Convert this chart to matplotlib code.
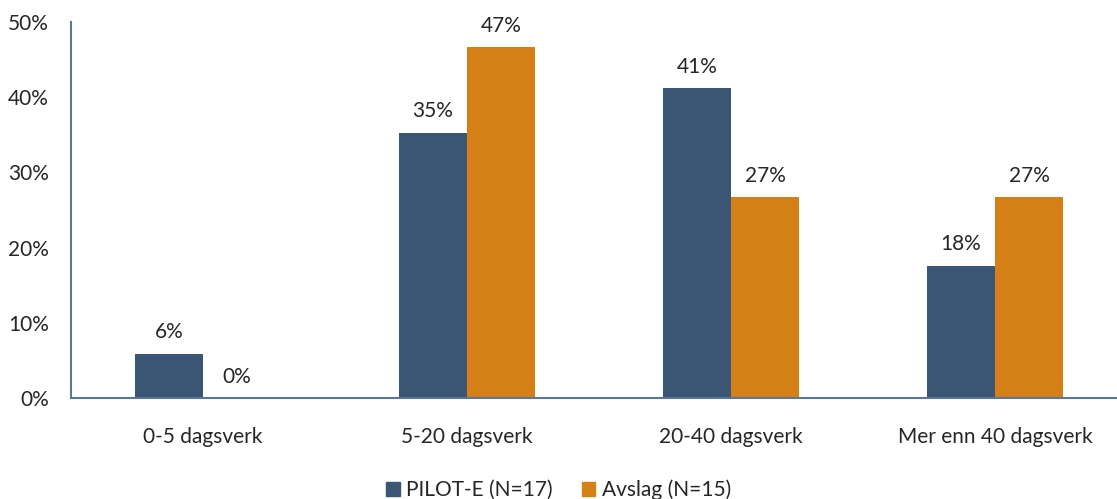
import numpy as np
import matplotlib.pyplot as plt
from matplotlib.patches import Patch

categories = ["0-5 dagsverk", "5-20 dagsverk", "20-40 dagsverk", "Mer enn 40 dagsverk"]
pilot_e = [5.9, 35.3, 41.2, 17.6]
avslag = [0.0, 46.7, 26.7, 26.7]
pilot_labels = ["6%", "35%", "41%", "18%"]
avslag_labels = ["0%", "47%", "27%", "27%"]

blue = "#3b5574"
orange = "#d57f17"
txt = "#262626"
fs = 15

plt.rcParams['font.family'] = ['Lato', 'DejaVu Sans']

fig = plt.figure(figsize=(11.17, 4.99), dpi=100)
ax = fig.add_axes([71 / 1117, 1 - 398 / 499, 1056 / 1117, 376 / 499])

x = np.arange(len(categories))
w = 0.258
b1 = ax.bar(x - w / 2, pilot_e, w, color=blue)
b2 = ax.bar(x + w / 2, avslag, w, color=orange)

for rect, lab in zip(b1, pilot_labels):
    ax.text(rect.get_x() + rect.get_width() / 2, rect.get_height() + 1.5, lab,
            ha='center', va='bottom', fontsize=fs, color=txt)
for rect, lab in zip(b2, avslag_labels):
    ax.text(rect.get_x() + rect.get_width() / 2, rect.get_height() + 1.5, lab,
            ha='center', va='bottom', fontsize=fs, color=txt)

ax.set_xlim(-0.5, 3.5)
ax.set_ylim(0, 50)
ax.set_yticks(range(0, 51, 10))
ax.set_yticklabels([f"{v}%" for v in range(0, 51, 10)])
ax.set_xticks(x)
ax.set_xticklabels(categories)
ax.tick_params(axis='both', length=0, labelsize=fs, labelcolor=txt)
ax.tick_params(axis='y', pad=16)
ax.tick_params(axis='x', pad=21)

for s in ['top', 'right']:
    ax.spines[s].set_visible(False)
for s in ['left', 'bottom']:
    ax.spines[s].set_color("#5a7896")
    ax.spines[s].set_linewidth(1.5)

handles = [Patch(color=blue, label="PILOT-E (N=17)"), Patch(color=orange, label="Avslag (N=15)")]
fig.legend(handles=handles, loc='center', bbox_to_anchor=(0.5, 1 - 490 / 499), ncol=2,
           frameon=False, fontsize=fs, handlelength=0.65, handleheight=0.65,
           handletextpad=0.3, columnspacing=1.4, labelcolor=txt)

fig.savefig("out.png", dpi=100)
